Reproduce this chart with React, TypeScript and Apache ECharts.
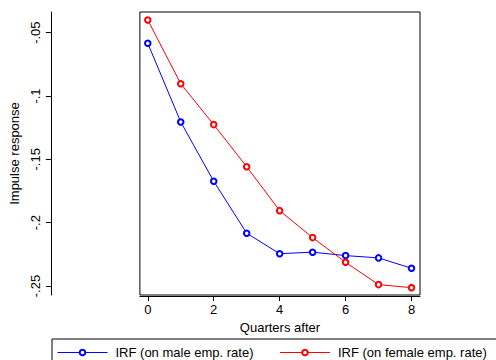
import React, { useEffect, useRef } from "react";
import * as echarts from "echarts";

const quarters = [0, 1, 2, 3, 4, 5, 6, 7, 8];
const maleIRF = [-0.0584, -0.1205, -0.1673, -0.2083, -0.2245, -0.2233, -0.226, -0.2278, -0.236];
const femaleIRF = [-0.04, -0.0903, -0.1226, -0.1558, -0.1905, -0.2118, -0.2313, -0.2489, -0.2513];
const yTickValues = [-0.25, -0.2, -0.15, -0.1, -0.05];
const yTickLabels = ["-.25", "-.2", "-.15", "-.1", "-.05"];
const xTickValues = [0, 2, 4, 6, 8];
const seriesNames = ["IRF (on male emp. rate)", "IRF (on female emp. rate)"];

const FONT = "'Liberation Sans', Arial, Helvetica, sans-serif";

export default function App() {
  const ref = useRef<HTMLDivElement>(null);
  useEffect(() => {
    if (!ref.current) return;
    const chart = echarts.init(ref.current, null, { renderer: "svg" });
    const txt = { fontFamily: FONT, fontSize: 13, color: "#000" };
    chart.setOption({
      animation: false,
      backgroundColor: "#fff",
      textStyle: { fontFamily: FONT },
      grid: {
        left: 136,
        top: 12,
        right: 76,
        bottom: 65,
        show: true,
        borderColor: "#000",
        borderWidth: 1,
        backgroundColor: "transparent",
      },
      legend: {
        left: 52,
        top: 339,
        width: 700,
        padding: [7, 20, 6, 5],
        borderColor: "#000",
        borderWidth: 1,
        itemWidth: 50,
        itemHeight: 7,
        itemGap: 26,
        lineStyle: { width: 1 },
        itemStyle: { borderWidth: 1 },
        textStyle: { ...txt, padding: [0, 0, 0, 3] },
        data: seriesNames,
      },
      xAxis: {
        type: "value",
        min: -0.239,
        max: 8.257,
        offset: 1,
        name: "Quarters after",
        nameLocation: "middle",
        nameGap: 22,
        nameTextStyle: txt,
        axisLine: { show: true, onZero: false, lineStyle: { color: "#000", width: 1 } },
        axisTick: { show: true, customValues: xTickValues, length: 5, lineStyle: { color: "#000" } },
        axisLabel: { ...txt, customValues: xTickValues, margin: 7 },
        splitLine: { show: false },
      },
      yAxis: {
        type: "value",
        min: -0.2571,
        max: -0.0337,
        offset: 89,
        name: "Impulse response",
        nameLocation: "middle",
        nameGap: 23,
        nameRotate: 90,
        nameTextStyle: txt,
        axisLine: { show: true, onZero: false, lineStyle: { color: "#000", width: 1 } },
        axisTick: { show: true, customValues: yTickValues, length: 5, lineStyle: { color: "#000" } },
        axisLabel: {
          ...txt,
          customValues: yTickValues,
          rotate: 90,
          margin: 9,
          formatter: (v: number) => {
            const i = yTickValues.findIndex((t) => Math.abs(t - v) < 1e-9);
            return i >= 0 ? yTickLabels[i] : "";
          },
        },
        splitLine: { show: false },
      },
      series: [
        {
          name: seriesNames[0],
          type: "line",
          data: quarters.map((q, i) => [q, maleIRF[i]]),
          symbol: "emptyCircle",
          symbolSize: 5.5,
          color: "#0000ff",
          lineStyle: { width: 1, color: "#0000ff" },
          itemStyle: { color: "#0000ff", borderWidth: 1 },
        },
        {
          name: seriesNames[1],
          type: "line",
          data: quarters.map((q, i) => [q, femaleIRF[i]]),
          symbol: "emptyCircle",
          symbolSize: 5.5,
          color: "#ff0000",
          lineStyle: { width: 1, color: "#ff0000" },
          itemStyle: { color: "#ff0000", borderWidth: 1 },
        },
      ],
    });
    return () => chart.dispose();
  }, []);
  return <div ref={ref} style={{ width: 496, height: 360, position: "absolute", left: 0, top: 0 }} />;
}
